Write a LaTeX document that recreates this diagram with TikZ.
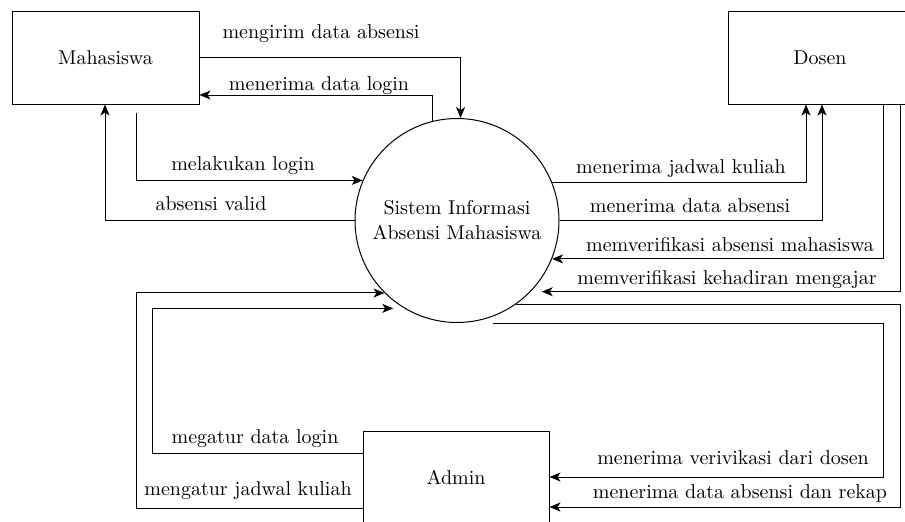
\documentclass[tikz,border=0pt]{standalone}
\usepackage{fontspec}
\setmainfont{lmroman10-regular}[Extension=.otf]
\usetikzlibrary{arrows.meta}
\begin{document}
\begin{tikzpicture}[x=1pt,y=-1pt,
  font=\fontsize{20}{25}\selectfont,
  line width=1pt,
  entity/.style={draw, rectangle, inner sep=0pt},
  process/.style={draw, circle, inner sep=0pt, minimum size=204pt, align=center},
  flow/.style={draw, -{Stealth[length=11pt,width=9pt,inset=3pt]}},
  lbl/.style={anchor=base, inner sep=0pt}]
\useasboundingbox (0,0) rectangle (905,522);
\clip (0,0) rectangle (905,522);

% external entities and the central process
\node[entity, minimum width=187pt, minimum height=93pt] (mhs) at (105.5,57.5) {Mahasiswa};
\node[entity, minimum width=184pt, minimum height=93pt] (dosen) at (820,57.5) {Dosen};
\node[entity, minimum width=186pt, minimum height=92pt] (admin) at (456,477) {Admin};
\node[process] (sys) at (457,220.5) {Sistem Informasi\\Absensi Mahasiswa};

% Mahasiswa <-> sistem
\draw[flow] (mhs.east) -| (sys.88);
\draw[flow] (sys.104) |- (mhs.east |- 0,95);
\draw[flow] (mhs.south -| 136,0) ++(0,8) |- (sys.157);
\draw[flow] (sys.west) -| (mhs.south -| 105,0);

% sistem <-> Dosen
\draw[flow] (sys.22) -| (dosen.south -| 806,0);
\draw[flow] (sys.east) -| (dosen.south -| 822,0);
\draw[flow] (dosen.south -| 883,0) |- (sys.338);
\draw[flow, shorten >=11pt] (dosen.south -| 900,0) |- (sys.316);

% sistem -> Admin
\draw[flow] (sys.305) -| (900,507) -- (admin.east |- 0,507);
\draw[flow] (sys.south -| 493,0) -| (883,477) -- (admin.east);

% Admin -> sistem
\draw[flow, shorten >=11pt] (admin.west |- 0,453) -| (sys.239 -| 152,0) -- (sys.239);
\draw[flow] (admin.west |- 0,508) -| (sys.225 -| 136,0) -- (sys.225);

% flow labels
\node[lbl] (l1) at (321,38) {mengirim data absensi};
\node[lbl] (l2) at (319,90) {menerima data login};
\node[lbl] (l3) at (243,170) {melakukan login};
\node[lbl] (l4) at (211,210) {absensi valid};
\node[lbl] (l5) at (681,173) {menerima jadwal kuliah};
\node[lbl] (l6) at (690,212) {menerima data absensi};
\node[lbl] (l7) at (730,251) {memverifikasi absensi mahasiswa};
\node[lbl] (l8) at (727,284) {memverifikasi kehadiran mengajar};
\node[lbl] (l9) at (733,464) {menerima verivikasi dari dosen};
\node[lbl] (l10) at (740,498) {menerima data absensi dan rekap};
\node[lbl] (l11) at (255,443) {megatur data login};
\node[lbl] (l12) at (248,495) {mengatur jadwal kuliah};
\end{tikzpicture}
\end{document}
